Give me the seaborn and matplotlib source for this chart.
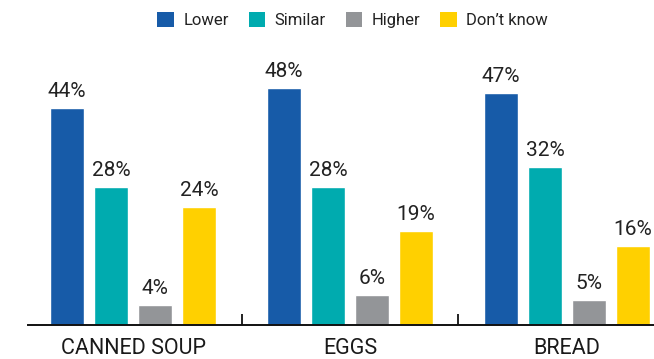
import matplotlib
matplotlib.use("Agg")
import matplotlib.pyplot as plt
import matplotlib.patches as mpatches
import seaborn as sns
import pandas as pd

# Survey data: expected price change per product
products = ["CANNED SOUP", "EGGS", "BREAD"]
responses = ["Lower", "Similar", "Higher", "Don\u2019t know"]
lower = [44, 48, 47]
similar = [28, 28, 32]
higher = [4, 6, 5]
dont_know = [24, 19, 16]
colors = ["#175ba8", "#00abaf", "#939598", "#ffd000"]

rows = []
for resp, vals in zip(responses, [lower, similar, higher, dont_know]):
    for prod, v in zip(products, vals):
        rows.append({"product": prod, "response": resp, "pct": v})
df = pd.DataFrame(rows)

sns.set_theme(style="white")
plt.rcParams["font.family"] = ["Roboto", "DejaVu Sans"]

fig = plt.figure(figsize=(6.54, 3.59), dpi=100)
ax = fig.add_axes([28 / 654, 34 / 359, 626 / 654, 296 / 359])

sns.barplot(data=df, x="product", y="pct", hue="response", order=products,
            hue_order=responses, palette=colors, width=0.81, gap=0.23,
            saturation=1, errorbar=None, legend=False, ax=ax)

for cont in ax.containers:
    ax.bar_label(cont, fmt="%d%%", padding=5, fontsize=15, color="#222222")

ax.set_ylim(0, 60)
ax.set_xlim(-0.484, 2.401)
ax.set_xlabel("")
ax.set_ylabel("")
ax.set_yticks([])
for side in ["top", "right", "left"]:
    ax.spines[side].set_visible(False)
ax.spines["bottom"].set_color("#111111")
ax.spines["bottom"].set_linewidth(1.4)

ax.set_xticks([0, 1, 2])
ax.set_xticklabels(products, fontsize=15.5, color="#1a1a1a")
ax.tick_params(axis="x", which="major", length=0, pad=9)
ax.set_xticks([0.5, 1.5], minor=True)
ax.tick_params(axis="x", which="minor", direction="in", length=8,
               width=1.3, color="#111111", bottom=True)

handles = [mpatches.Patch(facecolor=c, edgecolor="none", label=r)
           for c, r in zip(colors, responses)]
fig.legend(handles=handles, loc="center", bbox_to_anchor=(0.539, 0.944),
           ncol=4, frameon=False, handlelength=1.0, handleheight=1.0,
           handletextpad=0.55, columnspacing=1.2,
           prop={"family": ["Roboto", "DejaVu Sans"], "size": 12},
           labelcolor="#222222")

fig.savefig("out.png", dpi=100)
